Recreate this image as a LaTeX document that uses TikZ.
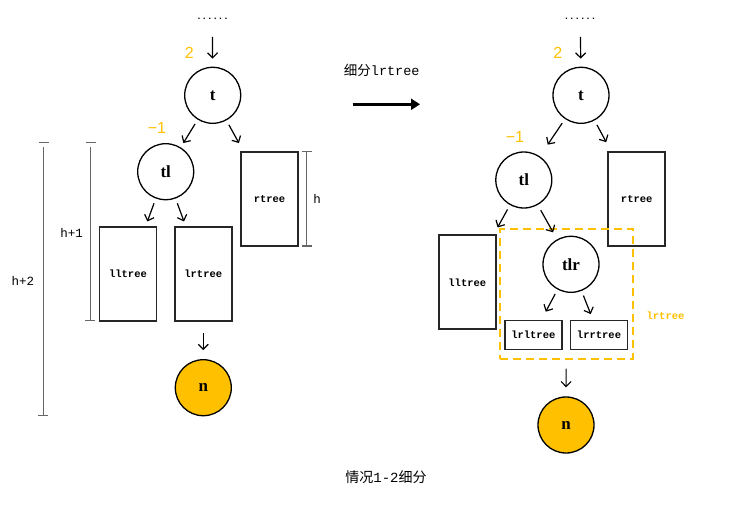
\documentclass[tikz,border=0pt]{standalone}
\usepackage{fontspec}
\setmainfont{Liberation Serif}
\newfontfamily\cjk{Noto Sans CJK SC}
\newfontfamily\mono{Liberation Mono}
\newfontfamily\sansf{Liberation Sans}
\usetikzlibrary{arrows.meta}
\definecolor{orng}{HTML}{FFC000}
\begin{document}
\begin{tikzpicture}[x=1pt,y=-1pt,
  circ/.style={circle,draw,line width=1.3pt,minimum size=56pt,inner sep=0pt,font=\fontsize{17}{17}\selectfont\bfseries},
  tree/.style={draw=black!85,line width=1.7pt,inner sep=0pt,minimum width=57pt,font=\mono\fontsize{10.5}{10.5}\selectfont\bfseries},
  tall/.style={tree,minimum height=94pt},
  flat/.style={tree,minimum height=29pt},
  arr/.style={line width=1.2pt,-{Straight Barb[length=5pt,width=10pt]}},
  num/.style={text=orng,font=\sansf\fontsize{16}{16}\selectfont},
  dim/.style={draw=black!60,line width=1.1pt},
  lbl/.style={font=\mono\fontsize{12.5}{12.5}\selectfont},
  dots/.style={font=\mono\bfseries\fontsize{9}{9}\selectfont,inner sep=0pt}]
\useasboundingbox (0,0) rectangle (746,511);

% ---------- left tree ----------
\node[dots] (dotsL) at (212.5,19) {......};
\coordinate (inL) at (212.5,37);
\node[circ] (tL) at (212.7,95.3) {t};
\node[circ] (tlL) at (165.7,171.7) {tl};
\node[tall] (rtreeL) at (269.5,198.8) {rtree};
\node[tall] (lltreeL) at (128,274) {lltree};
\node[tall] (lrtreeL) at (203.3,274) {lrtree};
\node[circ,fill=orng] (nL) at (203.3,387.7) {n};
\node[num] (twoL) at (189.3,52.7) {2};
\node[num] (m1L) at (157,127.7) {−1};

\draw[arr,shorten >=8pt] (inL) -- (tL);
\draw[arr,shorten <=5pt,shorten >=5pt] (tL) -- (tlL);
\draw[arr,shorten <=5pt,shorten >=9pt] (tL) -- (rtreeL);
\draw[arr,shorten <=5pt,shorten >=5pt] (tlL) -- (lltreeL);
\draw[arr,shorten <=5pt,shorten >=5pt] (tlL) -- (lrtreeL);
\draw[arr,shorten <=11pt,shorten >=9pt] (lrtreeL) -- (nL);

% dimension marks
\draw[dim] (301.7,151.7) -- (311.7,151.7) (306.5,151.7) -- (306.5,246) (301.7,246) -- (311.7,246);
\node[lbl] (hL) at (317,199.3) {h};
\draw[dim] (86,142.3) -- (96,142.3) (90.5,147) -- (90.5,320.7) (85,320.7) -- (95,320.7);
\node[lbl] (h1L) at (71.7,233.3) {h+1};
\draw[dim] (38.5,142.3) -- (48.5,142.3) (43.3,147) -- (43.3,415.3) (38,415.3) -- (48,415.3);
\node[lbl] (h2L) at (23,280.5) {h+2};

% ---------- middle ----------
\node (midtxt) at (381.7,70) {{\cjk\fontsize{13.5}{13.5}\selectfont 细分}{\mono\fontsize{13.5}{13.5}\selectfont lrtree}};
\coordinate (bigA) at (352.7,104.3);
\coordinate (bigB) at (420,104.3);
\draw[line width=3pt,-{Triangle[length=9pt,width=11pt]}] (bigA) -- (bigB);
\node (caption) at (386,477) {{\cjk\fontsize{14}{14}\selectfont 情况}{\mono\fontsize{14}{14}\selectfont 1-2}{\cjk\fontsize{14}{14}\selectfont 细分}};

% ---------- right tree ----------
\node[dots] (dotsR) at (580,19) {......};
\coordinate (inR) at (580.5,37);
\node[circ] (tR) at (581,95.3) {t};
\node[circ] (tlR) at (523.8,180) {tl};
\node[tall] (rtreeR) at (636.7,198.8) {rtree};
\node[tall] (lltreeR) at (467.3,282.3) {lltree};
\node[draw=orng,dash pattern=on 8pt off 5pt,line width=1.8pt,minimum width=132.7pt,minimum height=129.4pt,inner sep=0pt] (lrbox) at (566.3,294) {};
\node[circ] (tlrR) at (571,264.3) {tlr};
\node[flat] (lrlR) at (533.3,335) {lrltree};
\node[flat] (lrrR) at (599,335) {lrrtree};
\node[text=orng,font=\mono\bfseries\fontsize{10.5}{10.5}\selectfont] (lrlbl) at (665.5,316) {lrtree};
\node[circ,fill=orng] (nR) at (566,425) {n};
\node[num] (twoR) at (557.7,52.7) {2};
\node[num] (m1R) at (515,136.7) {−1};

\draw[arr,shorten >=8pt] (inR) -- (tR);
\draw[arr,shorten <=5pt,shorten >=14pt] (tR) -- (tlR);
\draw[arr,shorten <=5pt,shorten >=10pt] (tR) -- (rtreeR);
\draw[arr,shorten <=5pt,shorten >=8pt] (tlR) -- (lltreeR);
\draw[arr,shorten <=6pt,shorten >=8pt] (tlR) -- (tlrR);
\draw[arr,shorten <=5pt,shorten >=9pt] (tlrR) -- (lrlR);
\draw[arr,shorten <=5pt,shorten >=6pt] (tlrR) -- (lrrR);
\draw[arr,shorten <=9pt,shorten >=9pt] (lrbox) -- (nR);
\end{tikzpicture}
\end{document}
